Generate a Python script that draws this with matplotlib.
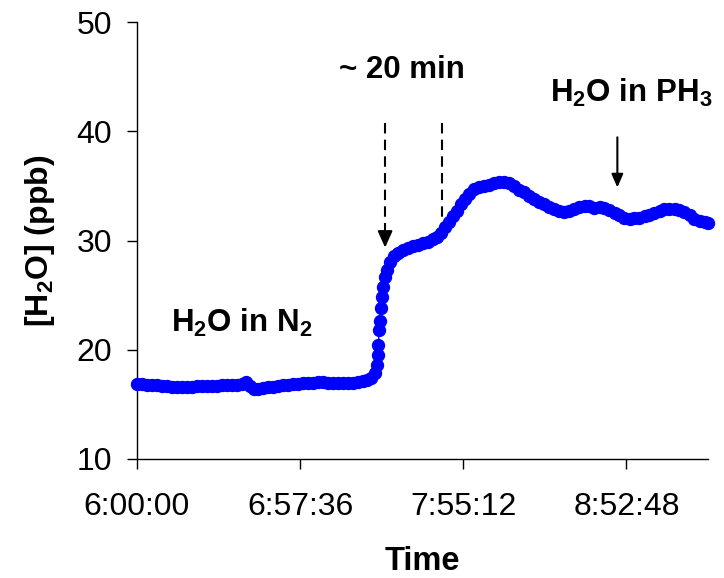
import matplotlib
matplotlib.use("Agg")
import matplotlib.pyplot as plt

plt.rcParams['font.family'] = ['Liberation Sans', 'DejaVu Sans']
plt.rcParams['mathtext.fontset'] = 'custom'
plt.rcParams['mathtext.bf'] = 'Liberation Sans:bold'
plt.rcParams['mathtext.rm'] = 'Liberation Sans'
plt.rcParams['mathtext.default'] = 'bf'

# minutes after 6:00:00
minutes = [0, 1.8, 3.5, 5.3, 7.1, 8.8, 10.6, 12.4, 14.1, 15.9, 17.7, 19.4, 21.2, 23.0,
           24.7, 26.5, 28.3, 30.0, 31.8, 33.6, 35.3, 37.1, 38.5, 39.9, 41.3, 42.8, 44.5,
           46.3, 48.1, 49.8, 51.6, 53.4, 55.1, 56.9, 58.7, 60.4, 62.2, 64.0, 65.7, 67.5,
           69.3, 71.0, 72.8, 74.6, 76.3, 78.1, 79.9, 81.3, 82.7, 84.1, 84.8, 85.0, 85.2,
           85.5, 85.9, 86.2, 86.6, 86.9, 87.6, 88.3, 89.4, 90.8, 92.2, 94.0, 95.8, 97.5,
           99.3, 101.1, 102.8, 104.6, 106.0, 107.4, 108.8, 110.3, 111.7, 113.1, 114.5,
           115.9, 117.3, 119.1, 120.9, 122.6, 124.4, 126.2, 127.9, 129.7, 131.5, 133.2,
           135.0, 136.8, 138.5, 140.3, 142.1, 143.8, 145.6, 147.4, 149.1, 150.9, 152.7,
           154.4, 156.2, 158.0, 159.7, 161.5, 163.3, 165.0, 166.8, 168.6, 170.3, 172.1,
           173.9, 175.6, 177.4, 179.2, 180.9, 182.7, 184.5, 186.2, 188.0, 189.8, 191.5,
           193.3, 195.1, 196.8, 198.6, 200.4, 201.6]
h2o_ppb = [16.85, 16.85, 16.8, 16.8, 16.75, 16.7, 16.65, 16.6, 16.55, 16.55, 16.55, 16.6,
           16.65, 16.7, 16.7, 16.7, 16.7, 16.75, 16.75, 16.75, 16.8, 16.9, 17.05, 16.7,
           16.45, 16.45, 16.5, 16.55, 16.6, 16.7, 16.8, 16.8, 16.85, 16.9, 16.95, 17.0, 17.0,
           17.05, 17.05, 17.0, 17.0, 17.0, 17.0, 17.0, 17.0, 17.05, 17.1, 17.2, 17.4, 17.9,
           18.6, 19.5, 20.4, 21.8, 22.6, 23.8, 24.8, 25.7, 26.7, 27.3, 28.0, 28.6, 28.9,
           29.1, 29.3, 29.5, 29.6, 29.8, 29.9, 30.1, 30.3, 30.7, 31.2, 31.7, 32.2, 32.7,
           33.3, 33.8, 34.3, 34.7, 34.9, 34.95, 35.1, 35.3, 35.35, 35.35, 35.3, 35.0, 34.6,
           34.4, 34.1, 33.8, 33.5, 33.3, 33.1, 32.9, 32.7, 32.6, 32.7, 32.9, 33.1, 33.2,
           33.2, 33.0, 33.1, 33.0, 32.8, 32.5, 32.3, 32.05, 32.0, 32.05, 32.1, 32.25, 32.35,
           32.5, 32.7, 32.9, 32.9, 32.85, 32.8, 32.6, 32.35, 32.0, 31.75, 31.65, 31.6]

tick_minutes = [0, 57.6, 115.2, 172.8]
tick_labels = ['6:00:00', '6:57:36', '7:55:12', '8:52:48']

fig = plt.figure(figsize=(7.24, 5.78), dpi=100)
ax = fig.add_axes([0.1892, 0.2059, 0.9779 - 0.1892, 0.9619 - 0.2059])

ax.plot(minutes, h2o_ppb, '-', color='#0000FF', lw=1, marker='o', ms=8.6,
        mfc='#0000FF', mec='#0000FF', clip_on=False, zorder=3)

ax.set_xlim(0, 201.6)
ax.set_ylim(10, 50)
ax.set_xticks(tick_minutes)
ax.set_xticklabels(tick_labels)
ax.set_yticks([10, 20, 30, 40, 50])
for s in ['top', 'right']:
    ax.spines[s].set_visible(False)
for s in ['left', 'bottom']:
    ax.spines[s].set_linewidth(1)
ax.tick_params(direction='out', length=7, width=1, labelsize=23)
ax.tick_params(axis='x', pad=17)
ax.tick_params(axis='y', pad=11)

ax.set_xlabel('Time', fontsize=23.5, fontweight='bold', labelpad=17)
ax.set_ylabel('[H$_2$O] (ppb)', fontsize=23, fontweight='bold', labelpad=14)

# annotations
ax.text(71.4, 44.87, '~ 20 min', fontsize=22.5, fontweight='bold', ha='left', va='baseline')
ax.text(145.9, 42.68, 'H$_2$O in PH$_3$', fontsize=22.5, fontweight='bold', ha='left', va='baseline')
ax.text(11.9, 21.65, 'H$_2$O in N$_2$', fontsize=22.5, fontweight='bold', ha='left', va='baseline')

ax.plot([87.6, 87.6], [40.75, 30.8], '--', color='black', lw=1.5, dashes=(5, 3))
ax.annotate('', xy=(87.6, 29.1), xytext=(87.6, 31.0),
            arrowprops=dict(arrowstyle='-|>,head_width=0.45,head_length=1.0', color='black', lw=1.5))
ax.plot([107.8, 107.8], [40.75, 32.1], '--', color='black', lw=1.5, dashes=(5, 3))
ax.annotate('', xy=(169.6, 34.6), xytext=(169.6, 39.7),
            arrowprops=dict(arrowstyle='-|>,head_width=0.35,head_length=0.8', color='black', lw=1.5))

fig.savefig('out.png', dpi=100)
